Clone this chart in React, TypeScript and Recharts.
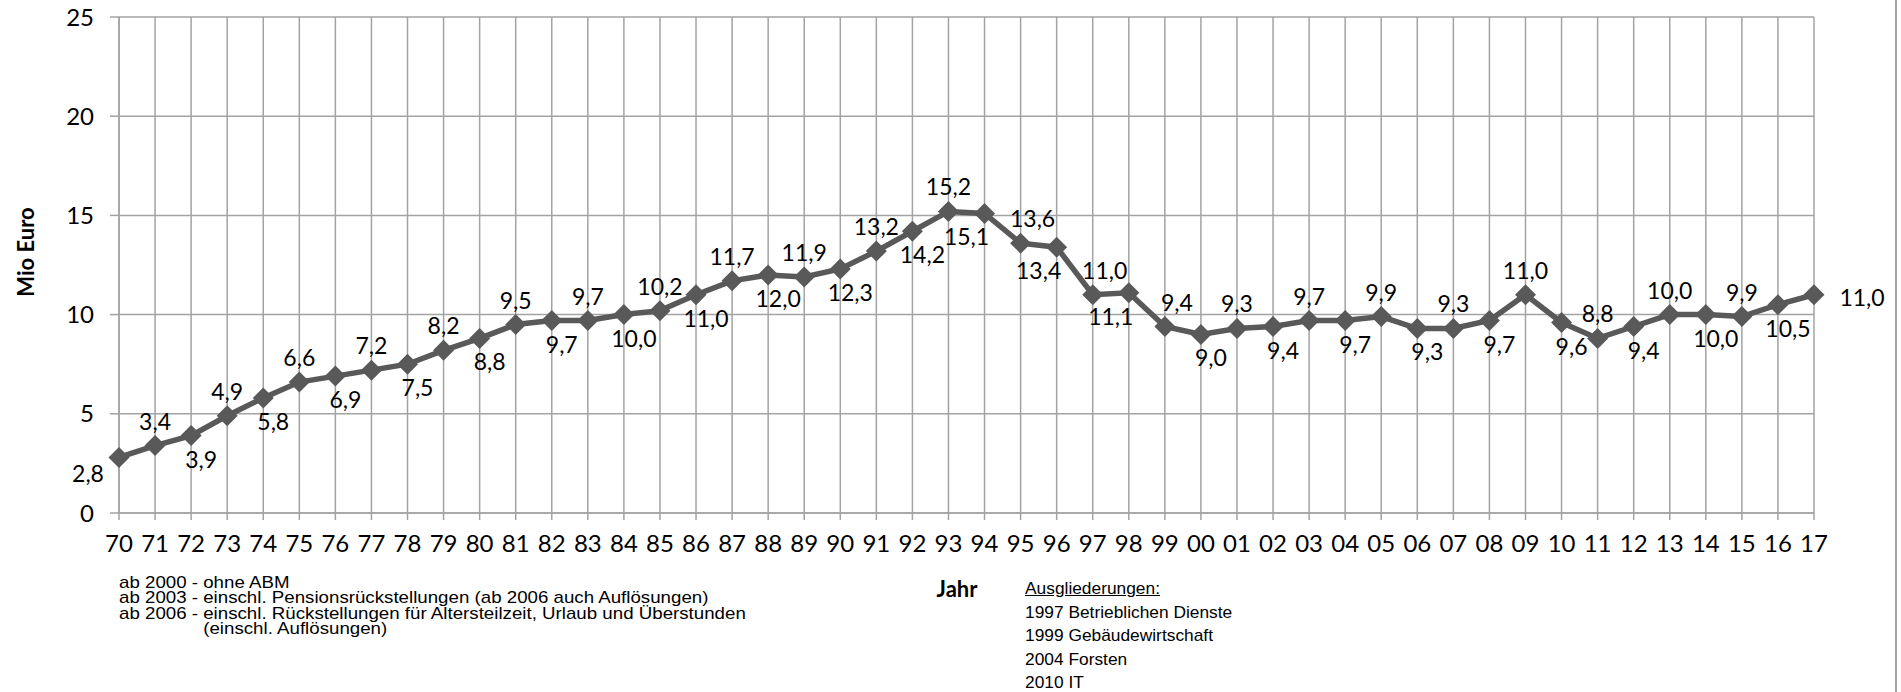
import React from 'react';
import { LineChart, Line, XAxis, YAxis, CartesianGrid, LabelList } from 'recharts';

const years = ['70','71','72','73','74','75','76','77','78','79','80','81','82','83','84','85','86','87','88','89','90','91','92','93','94','95','96','97','98','99','00','01','02','03','04','05','06','07','08','09','10','11','12','13','14','15','16','17'];
const values = [2.8,3.4,3.9,4.9,5.8,6.6,6.9,7.2,7.5,8.2,8.8,9.5,9.7,9.7,10.0,10.2,11.0,11.7,12.0,11.9,12.3,13.2,14.2,15.2,15.1,13.6,13.4,11.0,11.1,9.4,9.0,9.3,9.4,9.7,9.7,9.9,9.3,9.3,9.7,11.0,9.6,8.8,9.4,10.0,10.0,9.9,10.5,11.0];
const yTicks = [0, 5, 10, 15, 20, 25];
const footnotes = [
  'ab 2000 - ohne ABM',
  'ab 2003 - einschl. Pensionsrückstellungen (ab 2006 auch Auflösungen)',
  'ab 2006 - einschl. Rückstellungen für Altersteilzeit, Urlaub und Überstunden',
];
const footnoteCont = '(einschl. Auflösungen)';
const footnoteIndent = 'ab 2006 - ';
const outsourcingTitle = 'Ausgliederungen:';
const outsourcing = ['1997 Betrieblichen Dienste', '1999 Gebäudewirtschaft', '2004 Forsten', '2010 IT'];
const belowLeftYears = ['94', '96', '98'];
const aboveRightYears = ['95', '97', '99'];

const data = years.map((y, i) => ({ year: y, value: values[i] }));

const LINE = '#595959';
const GRID = '#a3a3a3';
const FONT = 'Lato, "Open Sans", sans-serif';
const ARIAL = '"Liberation Sans", Arial, sans-serif';

const fmt = (v: number) => v.toFixed(1).replace('.', ',');

const Diamond = (props: any) => {
  const { cx, cy, index } = props;
  if (cx == null || cy == null) return null;
  const r = 10.5;
  return (
    <polygon
      key={`d-${index}`}
      points={`${cx},${cy - r} ${cx + r},${cy} ${cx},${cy + r} ${cx - r},${cy}`}
      fill={LINE}
    />
  );
};

const ValueLabel = (props: any) => {
  const { x, y, value, index } = props;
  if (x == null || y == null) return null;
  const last = years.length - 1;
  let dx = 0;
  let dy = 0;
  if (index === 0) {
    dx = -31; dy = 16;
  } else if (index === last) {
    dx = 48; dy = 2;
  } else if (index % 2 === 1) {
    dx = aboveRightYears.includes(years[index]) ? 12 : 0;
    dy = -25;
  } else {
    dx = belowLeftYears.includes(years[index]) ? -18 : 10;
    dy = 23;
  }
  return (
    <text
      x={x + dx}
      y={y + dy}
      textAnchor="middle"
      dominantBaseline="central"
      fontFamily={FONT}
      fontSize={23}
      fill="#000"
    >
      {fmt(Number(value))}
    </text>
  );
};

export default function App() {
  return (
    <div style={{ position: 'absolute', left: 0, top: 0, width: 1901, height: 692, background: '#fff', overflow: 'hidden' }}>
      <LineChart
        width={1901}
        height={692}
        data={data}
        margin={{ top: 17, right: 87, bottom: 139, left: 0 }}
      >
        <CartesianGrid stroke={GRID} strokeWidth={1.5} />
        <XAxis
          dataKey="year"
          scale="point"
          padding={{ left: 0, right: 0 }}
          interval={0}
          height={40}
          tickSize={7}
          tickMargin={15}
          axisLine={{ stroke: GRID, strokeWidth: 1.5 }}
          tickLine={{ stroke: GRID, strokeWidth: 1.5 }}
          tick={{ fontFamily: FONT, fontSize: 24, fill: '#000' }}
        />
        <YAxis
          domain={[0, 25]}
          ticks={yTicks}
          width={119}
          tickSize={9}
          tickMargin={16}
          axisLine={{ stroke: GRID, strokeWidth: 1.5 }}
          tickLine={{ stroke: GRID, strokeWidth: 1.5 }}
          tick={{ fontFamily: FONT, fontSize: 24, fill: '#000' }}
        />
        <Line
          type="linear"
          dataKey="value"
          stroke={LINE}
          strokeWidth={5.5}
          dot={Diamond}
          activeDot={false}
          isAnimationActive={false}
        >
          <LabelList dataKey="value" content={ValueLabel} />
        </Line>
      </LineChart>

      <div
        style={{
          position: 'absolute', left: 25, top: 252, transform: 'translate(-50%, -50%) rotate(-90deg)',
          fontFamily: FONT, fontWeight: 700, fontSize: 22, whiteSpace: 'nowrap', color: '#000',
        }}
      >
        Mio Euro
      </div>

      <div
        style={{
          position: 'absolute', left: 957, top: 588, transform: 'translate(-50%, -50%)',
          fontFamily: FONT, fontWeight: 700, fontSize: 22, whiteSpace: 'nowrap', color: '#000',
        }}
      >
        Jahr
      </div>

      <div
        style={{
          position: 'absolute', left: 119, top: 575, fontFamily: ARIAL,
          fontSize: 17, lineHeight: '15.3px', whiteSpace: 'pre', color: '#000',
          transform: 'scaleX(1.1)', transformOrigin: 'left top',
        }}
      >
        {footnotes.map((t) => (
          <div key={t}>{t}</div>
        ))}
        <div>
          <span style={{ visibility: 'hidden' }}>{footnoteIndent}</span>
          {footnoteCont}
        </div>
      </div>

      <div
        style={{
          position: 'absolute', left: 1025, top: 577, fontFamily: ARIAL,
          fontSize: 17, lineHeight: '23.5px', whiteSpace: 'pre', color: '#000',
          transform: 'scaleX(1.02)', transformOrigin: 'left top',
        }}
      >
        <div style={{ textDecoration: 'underline' }}>{outsourcingTitle}</div>
        {outsourcing.map((t) => (
          <div key={t}>{t}</div>
        ))}
      </div>

      <div style={{ position: 'absolute', left: 1895, top: 0, width: 2, height: 692, background: GRID }} />
    </div>
  );
}
